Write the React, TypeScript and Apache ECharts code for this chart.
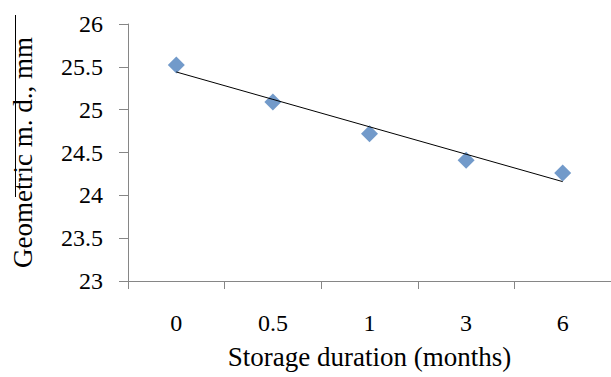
import React, { useEffect, useRef } from "react";
import * as echarts from "echarts";

const categories = ["0", "0.5", "1", "3", "6"];
const values = [25.52, 25.09, 24.72, 24.41, 24.26];
const yMin = 23;
const yMax = 26;
const yStep = 0.5;

function trend(vals: number[]): number[] {
  const n = vals.length;
  const xm = (n - 1) / 2;
  const ym = vals.reduce((a, b) => a + b, 0) / n;
  let num = 0;
  let den = 0;
  vals.forEach((v, i) => {
    num += (i - xm) * (v - ym);
    den += (i - xm) * (i - xm);
  });
  const slope = num / den;
  return vals.map((_, i) => ym + slope * (i - xm));
}

export default function App() {
  const ref = useRef<HTMLDivElement>(null);
  useEffect(() => {
    if (!ref.current) return;
    const chart = echarts.init(ref.current, null, { renderer: "svg" });
    const font = "'Liberation Serif', 'Times New Roman', serif";
    const axisColor = "#868686";
    chart.setOption({
      animation: false,
      backgroundColor: "#ffffff",
      textStyle: { fontFamily: font },
      grid: { left: 128, top: 24, right: -4, bottom: 96 },
      xAxis: {
        type: "category",
        data: categories,
        boundaryGap: true,
        axisLine: { lineStyle: { color: axisColor, width: 1 } },
        axisTick: { show: true, length: 8, lineStyle: { color: axisColor } },
        axisLabel: { color: "#000", fontFamily: font, fontSize: 24, margin: 30 },
        name: "Storage duration (months)",
        nameLocation: "middle",
        nameGap: 62,
        nameTextStyle: { color: "#000", fontFamily: font, fontSize: 27 },
        splitLine: { show: false },
      },
      yAxis: {
        type: "value",
        min: yMin,
        max: yMax,
        interval: yStep,
        axisLine: { show: true, lineStyle: { color: axisColor, width: 1 } },
        axisTick: { show: true, length: 9, lineStyle: { color: axisColor } },
        axisLabel: { color: "#000", fontFamily: font, fontSize: 24, margin: 25 },
        splitLine: { show: false },
        name: "Geometric m. d., mm",
        nameLocation: "middle",
        nameGap: 92,
        nameRotate: 90,
        nameTextStyle: { color: "#000", fontFamily: font, fontSize: 27 },
      },
      graphic: [
        {
          type: "line",
          shape: { x1: 15.5, y1: 15, x2: 15.5, y2: 197 },
          style: { stroke: "#000", lineWidth: 1 },
        },
      ],
      series: [
        {
          type: "line",
          data: trend(values),
          symbol: "none",
          lineStyle: { color: "#000", width: 1 },
          z: 3,
        },
        {
          type: "scatter",
          data: values,
          symbol: "diamond",
          symbolSize: 17,
          itemStyle: { color: "#4F81BD" },
          z: 2,
        },
      ],
    });
    return () => chart.dispose();
  }, []);
  return <div ref={ref} style={{ width: 611, height: 377, position: "absolute", left: 0, top: 0 }} />;
}
